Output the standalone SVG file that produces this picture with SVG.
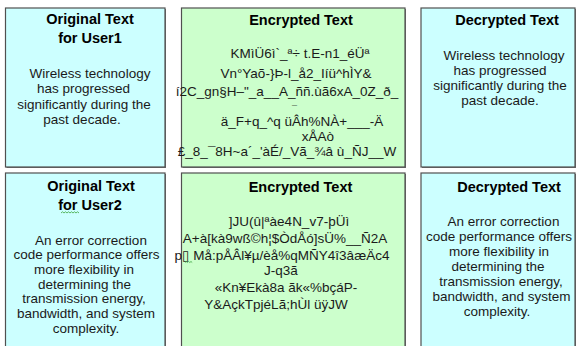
<svg xmlns="http://www.w3.org/2000/svg" width="576" height="346" viewBox="0 0 576 346">
  <style>
    .shadow { fill: #6e6e6e; }
    .box { stroke: #505050; stroke-width: 1.2; }
    .plain { fill: #ccffff; }
    .cipher { fill: #ccffcc; }
    .title { font-family: "Liberation Sans", Arial, sans-serif; font-weight: bold; font-size: 14.5px; fill: #000; text-anchor: middle; }
    .body { font-family: "Liberation Sans", Arial, "DejaVu Sans", sans-serif; font-size: 13.5px; fill: #1a1a1a; text-anchor: middle; }
    .mark { font-family: "Liberation Sans", Arial, sans-serif; font-size: 9px; fill: #1a1a1a; }
    .squiggle { fill: none; stroke: #4caf50; stroke-width: 0.9; }
  </style>
  <rect width="576" height="346" fill="#ffffff"/>

  <!-- Row 1: user 1 -->
  <g id="original1">
    <rect class="shadow" x="6.5" y="9" width="159.5" height="159"/>
    <rect class="box plain" x="5.5" y="8" width="159.5" height="159"/>
    <text class="title" x="90" y="24">Original Text</text>
    <text class="title" x="90" y="43">for User1</text>
    <text class="body" x="90" y="77.5">Wireless technology</text>
    <text class="body" x="83.5" y="93">has progressed</text>
    <text class="body" x="84" y="108.5">significantly during the</text>
    <text class="body" x="82" y="124">past decade.</text>
  </g>

  <g id="encrypted1">
    <rect class="shadow" x="182.5" y="9" width="223.5" height="159"/>
    <rect class="box cipher" x="181.5" y="8" width="223.5" height="159"/>
    <text class="title" x="301" y="25">Encrypted Text</text>
    <text class="body" x="300" y="58">KMìÜ6ì`_ª÷ t.E-n1_éÜª</text>
    <text class="body" x="296" y="78">Vn°Yaõ-}Þ-l_å2_Iíü^hÌY&amp;</text>
    <text class="body" x="287" y="95.5">í2C_gn§H–"_a__A_ññ.ùã6xA_0Z_ð_</text>
    <text class="mark" x="292" y="111.5">¯</text>
    <text class="body" x="302" y="125.5">ä_F+q_^q üÂh%NÀ+___-Ä</text>
    <text class="body" x="318" y="140.5">xÅAò</text>
    <text class="body" x="287" y="156">£_8_¯8H~a´_'àÉ/_Vã_¾â ù_ÑJ__W</text>
  </g>

  <g id="decrypted1">
    <rect class="shadow" x="422" y="9" width="154" height="159"/>
    <rect class="box plain" x="421" y="8" width="154" height="159"/>
    <text class="title" x="507" y="25">Decrypted Text</text>
    <text class="body" x="504" y="60">Wireless technology</text>
    <text class="body" x="500" y="75">has progressed</text>
    <text class="body" x="500" y="90">significantly during the</text>
    <text class="body" x="500" y="105">past decade.</text>
  </g>

  <!-- Row 2: user 2 -->
  <g id="original2">
    <rect class="shadow" x="6.5" y="174" width="159.5" height="180"/>
    <rect class="box plain" x="5.5" y="173" width="159.5" height="180"/>
    <text class="title" x="91" y="191">Original Text</text>
    <text class="title" x="90" y="209.5">for User2</text>
    <path class="squiggle" d="M61 213 l1.5 -1.2 l1.5 1.2 l1.5 -1.2 l1.5 1.2 l1.5 -1.2 l1.5 1.2 l1.5 -1.2 l1.5 1.2 l1.5 -1.2 l1.5 1.2 l1.5 -1.2 l1.5 1.2"/>
    <text class="body" x="91" y="244.5">An error correction</text>
    <text class="body" x="86.5" y="259.2">code performance offers</text>
    <text class="body" x="84" y="273.9">more flexibility in</text>
    <text class="body" x="84.5" y="288.6">determining the</text>
    <text class="body" x="84" y="303.3">transmission energy,</text>
    <text class="body" x="86" y="318">bandwidth, and system</text>
    <text class="body" x="86" y="332.7">complexity.</text>
  </g>

  <g id="encrypted2">
    <rect class="shadow" x="182.5" y="174" width="223.5" height="180"/>
    <rect class="box cipher" x="181.5" y="173" width="223.5" height="180"/>
    <text class="title" x="300.5" y="192">Encrypted Text</text>
    <text class="body" x="289" y="225.5">]JU(û|ªàe4N_v7-þÜì</text>
    <text class="body" x="285" y="242.5">A+à[kà9wß©h¦$ÒdÅó]sÜ%__Ñ2A</text>
    <text class="body" x="282" y="259.5">p▯  Må:pÅÂl¥µ/èå%qMÑY4î3âæÄc4</text>
    <path class="squiggle" d="M185 262.5 l1.2 -1 l1.2 1 l1.2 -1 l1.2 1 l1.2 -1 l1.2 1"/>
    <text class="body" x="281" y="274.5">J-q3ã</text>
    <text class="body" x="286" y="292">«Kn¥Ekà8a  ãk«%bçáP-</text>
    <text class="body" x="276" y="308.5">Y&amp;AçkTpjéLã;hÙl  üÿJW</text>
  </g>

  <g id="decrypted2">
    <rect class="shadow" x="422" y="174" width="154" height="180"/>
    <rect class="box plain" x="421" y="173" width="154" height="180"/>
    <text class="title" x="509" y="192">Decrypted Text</text>
    <text class="body" x="503.5" y="225.5">An error correction</text>
    <text class="body" x="499" y="240.5">code performance offers</text>
    <text class="body" x="499" y="255.5">more flexibility in</text>
    <text class="body" x="498" y="270.5">determining the</text>
    <text class="body" x="501" y="285.5">transmission energy,</text>
    <text class="body" x="501.5" y="300.5">bandwidth, and system</text>
    <text class="body" x="497" y="315.5">complexity.</text>
  </g>

  <!-- no connectors between the panels -->
  <g id="connectors"/>
</svg>
